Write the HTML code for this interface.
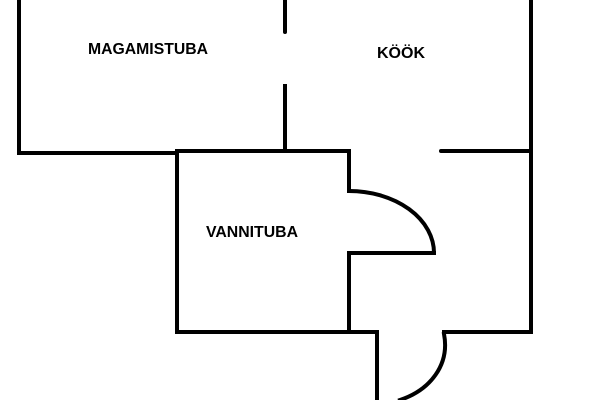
<!DOCTYPE html>
<html><head><style>
body{margin:0;background:#fff;width:600px;height:400px;overflow:hidden}
</style></head><body>
<svg width="600" height="400" viewBox="0 0 600 400" xmlns="http://www.w3.org/2000/svg">
<g stroke="#000" stroke-width="4" fill="none" stroke-linecap="square">
<polyline points="19,0 19,153 177,153"/>
<line x1="285" y1="0" x2="285" y2="32" stroke-linecap="round"/>
<line x1="285" y1="86" x2="285" y2="151"/>
<polyline points="349,191 349,151 177,151 177,332 377,332 377,400"/>
<path d="M349,191 A85,62 0 0 1 434,253"/>
<polyline points="434,253 349,253 349,332"/>
<polyline points="531,0 531,332 444,332"/>
<path d="M444,334 C450,365 430,390 400,400"/>
<line x1="441" y1="151" x2="531" y2="151" stroke-linecap="round"/>
</g>
<g font-family="Liberation Sans, sans-serif" font-weight="bold" font-size="16" fill="#000" text-anchor="middle">
<text x="148" y="54" textLength="120" lengthAdjust="spacingAndGlyphs">MAGAMISTUBA</text>
<text x="401" y="58">KÖÖK</text>
<text x="252" y="237" textLength="92" lengthAdjust="spacingAndGlyphs">VANNITUBA</text>
</g>
</svg>
</body></html>
